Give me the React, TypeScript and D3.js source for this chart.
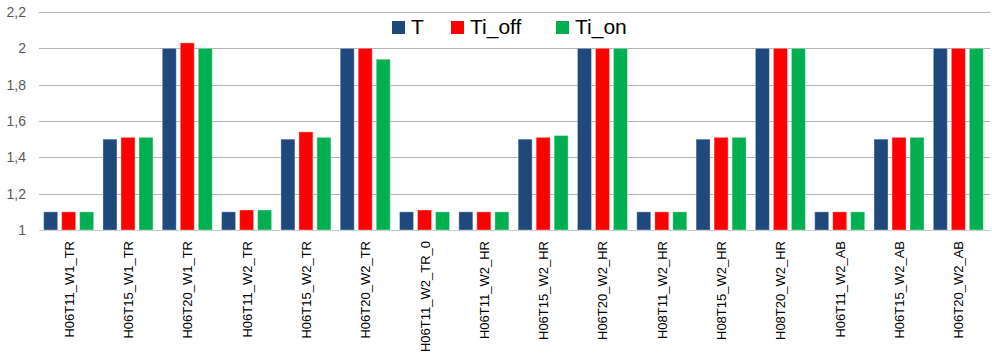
import React from "react";
import * as d3 from "d3";

const categories = [
  "H06T11_W1_TR",
  "H06T15_W1_TR",
  "H06T20_W1_TR",
  "H06T11_W2_TR",
  "H06T15_W2_TR",
  "H06T20_W2_TR",
  "H06T11_W2_TR_0",
  "H06T11_W2_HR",
  "H06T15_W2_HR",
  "H06T20_W2_HR",
  "H08T11_W2_HR",
  "H08T15_W2_HR",
  "H08T20_W2_HR",
  "H06T11_W2_AB",
  "H06T15_W2_AB",
  "H06T20_W2_AB",
];

const seriesNames = ["T", "Ti_off", "Ti_on"];
const seriesColors = ["#1f497d", "#ff0000", "#00b050"];

const valuesT = [1.1, 1.5, 2.0, 1.1, 1.5, 2.0, 1.1, 1.1, 1.5, 2.0, 1.1, 1.5, 2.0, 1.1, 1.5, 2.0];
const valuesTiOff = [1.1, 1.51, 2.03, 1.11, 1.54, 2.0, 1.11, 1.1, 1.51, 2.0, 1.1, 1.51, 2.0, 1.1, 1.51, 2.0];
const valuesTiOn = [1.1, 1.51, 2.0, 1.11, 1.51, 1.94, 1.1, 1.1, 1.52, 2.0, 1.1, 1.51, 2.0, 1.1, 1.51, 2.0];

const yTicks = [1, 1.2, 1.4, 1.6, 1.8, 2, 2.2];

const W = 992;
const H = 356;
const left = 39;
const right = 988;
const top = 12;
const bottom = 230;

export default function App() {
  const seriesValues = [valuesT, valuesTiOff, valuesTiOn];
  const y = d3.scaleLinear().domain([1, 2.2]).range([bottom, top]);
  const x0 = d3.scaleBand<string>().domain(categories).range([left, right]).padding(0);
  const x1 = d3
    .scaleBand<string>()
    .domain(seriesNames)
    .range([0, x0.bandwidth()])
    .paddingInner(0.222)
    .paddingOuter(0.258);
  const fmt = (v: number) => d3.format("~g")(v).replace(".", ",");
  const font = "'Liberation Sans', Arial, sans-serif";

  const legendItems = [
    { name: "T", sx: 392, tx: 411 },
    { name: "Ti_off", sx: 451, tx: 470 },
    { name: "Ti_on", sx: 556, tx: 575 },
  ];

  return (
    <svg
      width={W}
      height={H}
      style={{ position: "absolute", left: 0, top: 0, background: "#fff" }}
      fontFamily={font}
    >
      <rect x={0} y={0} width={W} height={H} fill="#fff" />
      {yTicks.map((t) => (
        <g key={t}>
          <line
            x1={left}
            x2={right + 2}
            y1={Math.round(y(t)) + 0.5}
            y2={Math.round(y(t)) + 0.5}
            stroke={t === 1 ? "#c8c8c8" : "#b4b4b4"}
            strokeWidth={1}
          />
          <text
            x={26}
            y={y(t) + 5}
            textAnchor="end"
            fontSize={14}
            fill="#595959"
          >
            {fmt(t)}
          </text>
        </g>
      ))}
      {categories.map((c, i) => (
        <g key={c} transform={`translate(${x0(c)},0)`}>
          {seriesNames.map((s, j) => {
            const v = seriesValues[j][i];
            return (
              <rect
                key={s}
                x={x1(s)}
                y={y(v)}
                width={x1.bandwidth()}
                height={y(1) - y(v)}
                fill={seriesColors[j]}
                stroke="#ffffff"
                strokeOpacity={0.35}
                strokeWidth={1}
              />
            );
          })}
        </g>
      ))}
      {categories.map((c) => {
        const cx = (x0(c) as number) + x0.bandwidth() / 2 + 5;
        return (
          <text
            key={c}
            transform={`translate(${cx},241) rotate(-90)`}
            textAnchor="end"
            fontSize={13}
            fill="#000"
          >
            {c}
          </text>
        );
      })}
      {legendItems.map((l, j) => (
        <g key={l.name}>
          <rect x={l.sx} y={21} width={13} height={13} fill={seriesColors[j]} />
          <text x={l.tx} y={34} fontSize={21} fill="#000">
            {l.name}
          </text>
        </g>
      ))}
    </svg>
  );
}
